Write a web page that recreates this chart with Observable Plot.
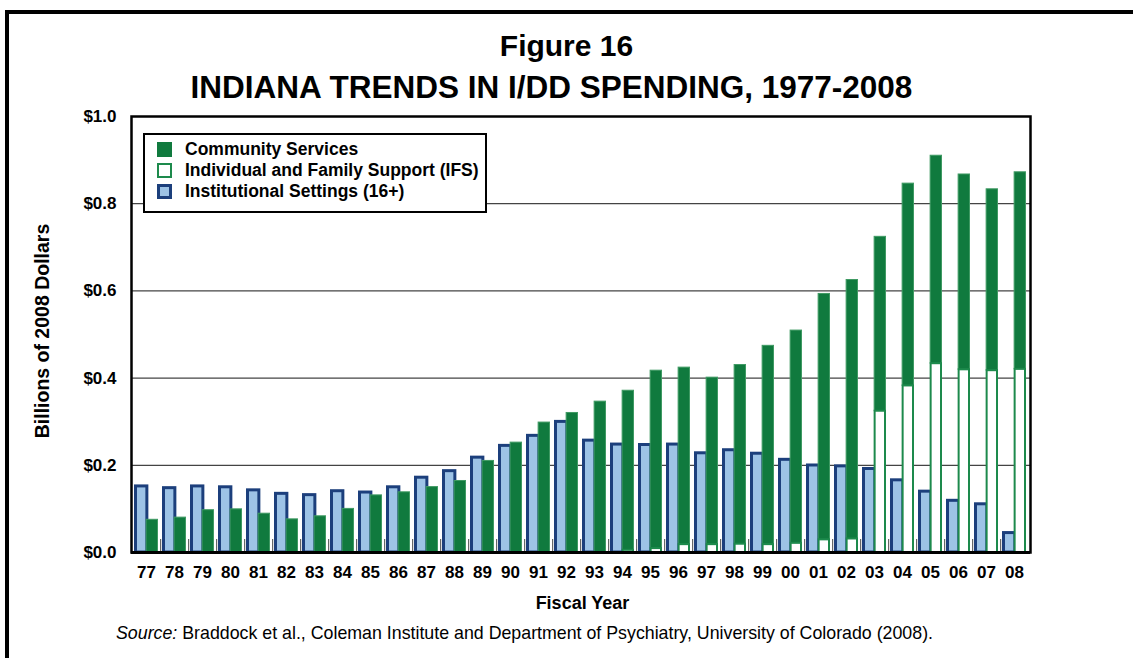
<!DOCTYPE html>
<html>
<head>
<meta charset="utf-8">
<script src="https://cdn.jsdelivr.net/npm/d3@7"></script>
<script src="https://cdn.jsdelivr.net/npm/@observablehq/plot@0.6"></script>
<style>
  html, body { margin: 0; padding: 0; background: #fff; }
  #wrap { position: relative; width: 1133px; height: 658px; overflow: hidden; font-family: "Liberation Sans", Arial, sans-serif; color: #000; }
  #outer { position: absolute; left: 5px; top: 10px; width: 1300px; height: 800px; border-left: 4px solid #000; border-top: 4px solid #000; }
  .title { position: absolute; left: 0; width: 1133px; text-align: center; font-weight: bold; white-space: nowrap; }
  #chart { position: absolute; left: 0; top: 100px; }
  #ylabel { position: absolute; left: 42px; top: 331px; transform: translate(-50%, -50%) rotate(-90deg); font-weight: bold; font-size: 19.5px; white-space: nowrap; }
  #legend { position: absolute; left: 143px; top: 133px; width: 344px; height: 80px; border: 2px solid #000; background: #fff; box-sizing: border-box; }
  .lrow { position: absolute; left: 12px; font-weight: bold; font-size: 17.5px; white-space: nowrap; line-height: 20px; }
  .sw { display: inline-block; width: 15px; height: 15px; box-sizing: border-box; vertical-align: -2px; margin-right: 13px; }
  #xlabel { position: absolute; left: 0; width: 1165px; text-align: center; top: 593px; font-weight: bold; font-size: 18px; }
  #source { position: absolute; left: 116px; top: 623px; font-size: 17.8px; white-space: nowrap; }
</style>
</head>
<body>
<div id="wrap">
  <div id="outer"></div>
  <div class="title" style="top:29px;font-size:30px;">Figure 16</div>
  <div class="title" style="top:69px;left:-15px;font-size:31.5px;">INDIANA TRENDS IN I/DD SPENDING, 1977-2008</div>
  <div id="chart"></div>
  <div id="ylabel">Billions of 2008 Dollars</div>
  <div id="legend"></div>
  <div id="xlabel">Fiscal Year</div>
  <div id="source"><i>Source:</i> Braddock et al., Coleman Institute and Department of Psychiatry, University of Colorado (2008).</div>
</div>
<script>
const years = ["77","78","79","80","81","82","83","84","85","86","87","88","89","90","91","92","93","94","95","96","97","98","99","00","01","02","03","04","05","06","07","08"];
const institutional = [0.155,0.151,0.155,0.153,0.146,0.138,0.135,0.144,0.141,0.153,0.175,0.190,0.221,0.248,0.271,0.303,0.260,0.251,0.250,0.251,0.231,0.238,0.230,0.216,0.203,0.201,0.195,0.169,0.143,0.122,0.114,0.048];
const ifs = [0,0,0,0,0,0,0,0,0,0,0,0,0,0,0,0,0,0.005,0.009,0.018,0.018,0.019,0.018,0.021,0.029,0.031,0.324,0.382,0.433,0.419,0.417,0.420];
const community = [0.075,0.080,0.097,0.099,0.089,0.076,0.083,0.100,0.131,0.138,0.150,0.164,0.210,0.252,0.298,0.320,0.346,0.366,0.408,0.406,0.383,0.411,0.456,0.488,0.564,0.594,0.400,0.464,0.477,0.448,0.416,0.452];
const yTicks = [0, 0.2, 0.4, 0.6, 0.8, 1.0];
const seriesNames = ["Community Services", "Individual and Family Support (IFS)", "Institutional Settings (16+)"];

const GREEN = "#107a3e", GREEN_EDGE = "#3f9a63", BLUE = "#9dc3e6", NAVY = "#1c3f7c";

const instRows = years.map((year, i) => ({year, value: institutional[i]}));
const ifsRows = years.map((year, i) => ({year, y1: 0, y2: ifs[i]})).filter(d => d.y2 > 0);
const commRows = years.map((year, i) => ({year, y1: ifs[i], y2: ifs[i] + community[i]}));

const W = 1133, H = 500, mL = 131, mR = 103, mT = 16, mB = 48;
const padInner = 0.14;
const step = (W - mL - mR) / (years.length - padInner);
const bw = step * (1 - padInner);
const half = bw / 2;

const chart = Plot.plot({
  width: W, height: H,
  marginLeft: mL, marginRight: mR, marginTop: mT, marginBottom: mB,
  style: {fontFamily: "'Liberation Sans', Arial, sans-serif", fontWeight: "bold", fontSize: "17px", color: "#000", background: "transparent"},
  x: {domain: years, paddingInner: padInner, paddingOuter: 0, label: null},
  y: {domain: [0, 1], label: null},
  marks: [
    Plot.ruleY([0.2, 0.4, 0.6, 0.8], {stroke: "#444", strokeWidth: 1.2}),
    Plot.ruleX(years.slice(0, -1), {x: d => d, dx: step / 2, y1: 0, y2: 0.03, stroke: "#666", strokeWidth: 1.2}),
    Plot.barY(instRows, {x: "year", y: "value", fill: BLUE, stroke: NAVY, strokeWidth: 3, insetLeft: 1.5, insetRight: half - 1, insetTop: 1.5}),
    Plot.barY(commRows, {x: "year", y1: "y1", y2: "y2", fill: GREEN, stroke: GREEN_EDGE, strokeWidth: 1, insetLeft: half, insetRight: 0.5}),
    Plot.barY(ifsRows, {x: "year", y1: "y1", y2: "y2", fill: "#fff", stroke: "#1d8a4c", strokeWidth: 2, insetLeft: half + 0.5, insetRight: 1}),
    Plot.axisY({ticks: yTicks, tickFormat: d => "$" + d.toFixed(1), tickSize: 0, tickPadding: 15, fontSize: 17, fontWeight: "bold", label: null}),
    Plot.axisX({tickSize: 0, tickPadding: 13, fontSize: 17, fontWeight: "bold", label: null}),
    Plot.ruleY([0], {stroke: "#000", strokeWidth: 3}),
    Plot.frame({stroke: "#000", strokeWidth: 2.5})
  ]
});
document.getElementById("chart").appendChild(chart);

// legend
const legend = document.getElementById("legend");
const swStyles = [
  `background:${GREEN};`,
  `background:#fff;border:2px solid #1d8a4c;`,
  `background:${BLUE};border:3px solid ${NAVY};`
];
seriesNames.forEach((name, i) => {
  const row = document.createElement("div");
  row.className = "lrow";
  row.style.top = (4 + i * 21) + "px";
  const sw = document.createElement("span");
  sw.className = "sw";
  sw.style.cssText = swStyles[i];
  row.appendChild(sw);
  row.appendChild(document.createTextNode(name));
  legend.appendChild(row);
});
</script>
</body>
</html>
